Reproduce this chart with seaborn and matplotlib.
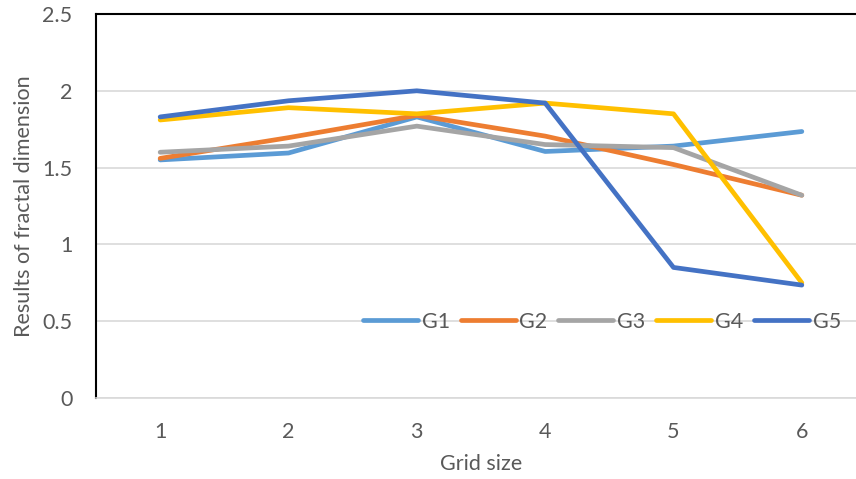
import pandas as pd
import matplotlib
matplotlib.use('Agg')
import matplotlib.pyplot as plt
import seaborn as sns

# values
grid_size = [1, 2, 3, 4, 5, 6]
g1 = [1.55, 1.595, 1.83, 1.605, 1.64, 1.735]
g2 = [1.56, 1.695, 1.84, 1.705, 1.52, 1.32]
g3 = [1.60, 1.64, 1.77, 1.65, 1.63, 1.32]
g4 = [1.81, 1.89, 1.85, 1.92, 1.85, 0.75]
g5 = [1.83, 1.935, 2.00, 1.92, 0.85, 0.735]
groups = ['G1', 'G2', 'G3', 'G4', 'G5']
colors = ['#5B9BD5', '#ED7D31', '#A5A5A5', '#FFC000', '#4472C4']

rows = []
for name, vals in zip(groups, [g1, g2, g3, g4, g5]):
    for x, y in zip(grid_size, vals):
        rows.append({'Grid size': x, 'value': y, 'group': name})
df = pd.DataFrame(rows)

sns.set_style('white')
plt.rcParams['font.family'] = ['Lato', 'DejaVu Sans']
fs = 15.5

fig = plt.figure(figsize=(8.56, 4.79), dpi=100)
ax = fig.add_axes([96 / 856, 1 - 398 / 479, 770 / 856, 384 / 479])

sns.lineplot(data=df, x='Grid size', y='value', hue='group', palette=colors,
             linewidth=3.4, ax=ax, legend=False, solid_capstyle='round')

ax.set_xlim(0.5, 6.5)
ax.set_ylim(0, 2.5)
ax.set_xticks(grid_size)
ax.set_yticks([0, 0.5, 1, 1.5, 2, 2.5])
ax.set_yticklabels(['0', '0.5', '1', '1.5', '2', '2.5'])
ax.yaxis.grid(True, color='#D9D9D9', linewidth=1.2)
ax.set_axisbelow(True)
for ln in ax.lines:
    ln.set_zorder(3)

ax.spines['top'].set_color('black')
ax.spines['top'].set_linewidth(1.5)
ax.spines['left'].set_color('black')
ax.spines['left'].set_linewidth(1.5)
ax.spines['bottom'].set_color('#D9D9D9')
ax.spines['bottom'].set_linewidth(1.2)
ax.spines['right'].set_visible(False)

ax.tick_params(axis='both', length=0, labelsize=fs, labelcolor='#595959')
ax.tick_params(axis='x', pad=17)
ax.tick_params(axis='y', pad=17)
ax.set_xlabel('Grid size', fontsize=fs, color='#595959', labelpad=9)
ax.set_ylabel('Results of fractal dimension', fontsize=fs, color='#595959', labelpad=6)

handles = [plt.Line2D([], [], color=c, linewidth=3.4, solid_capstyle='round') for c in colors]
leg = fig.legend(handles, groups, ncol=5, frameon=False, fontsize=fs,
                 loc='center left', bbox_to_anchor=(363 / 856, 1 - 322 / 479),
                 borderpad=0, borderaxespad=0, handlelength=2.55,
                 handletextpad=0.18, columnspacing=0.5)
for t in leg.get_texts():
    t.set_color('#595959')

fig.savefig('out.png', dpi=100)
